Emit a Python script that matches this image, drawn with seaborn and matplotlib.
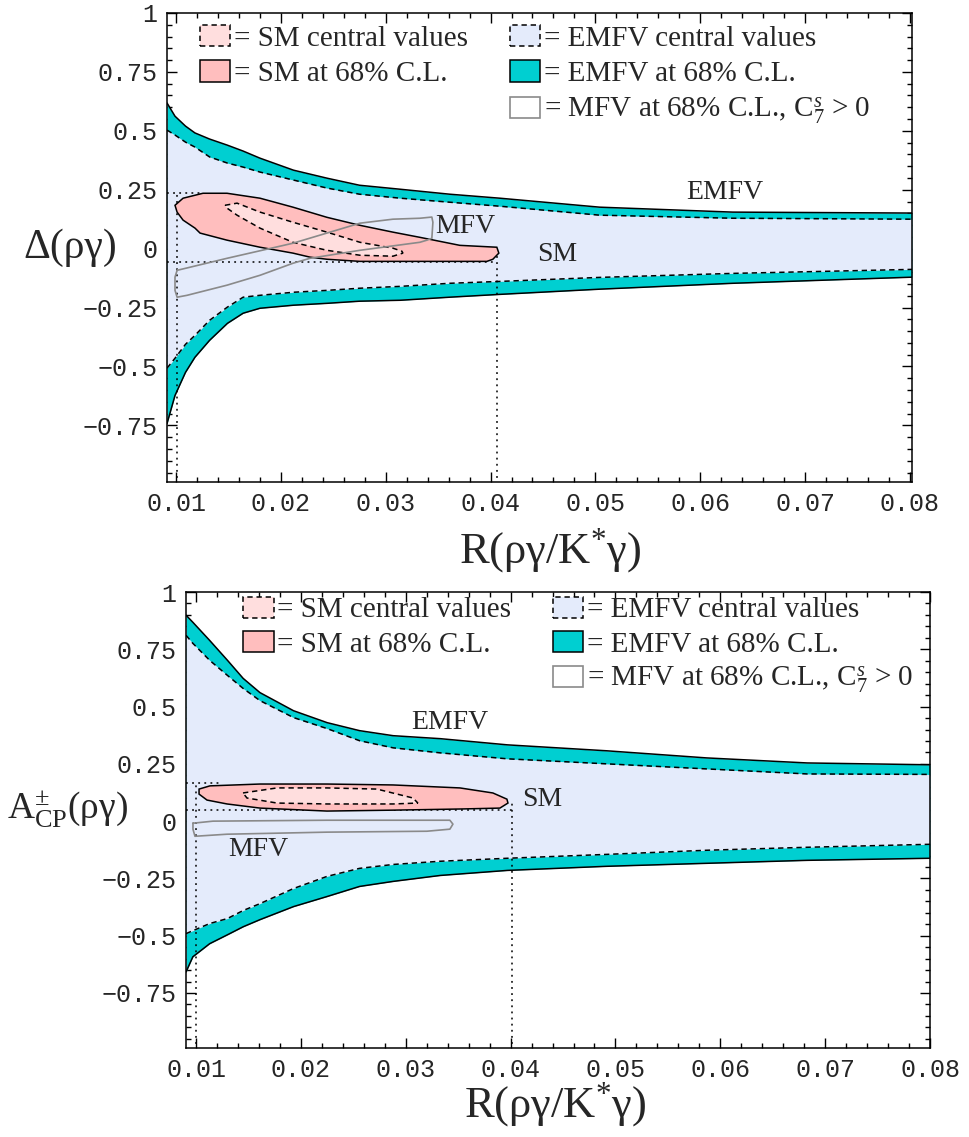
import numpy as np
import pandas as pd
import matplotlib
matplotlib.use('Agg')
import matplotlib.pyplot as plt
import seaborn as sns
from matplotlib.patches import Patch
from matplotlib.ticker import MultipleLocator, FuncFormatter

# --- top panel: Delta(rho gamma) vs R ---
r_top = [0.00914, 0.0099, 0.0109, 0.0118, 0.0132, 0.0149, 0.0164, 0.0180, 0.0212,
         0.0244, 0.0275, 0.0314, 0.0361, 0.0409, 0.0504, 0.0631, 0.0802]
emfv_top_out_hi = [0.618, 0.562, 0.520, 0.491, 0.465, 0.439, 0.414, 0.384, 0.333,
                   0.299, 0.269, 0.252, 0.231, 0.214, 0.176, 0.155, 0.151]
emfv_top_in_hi = [0.503, 0.482, 0.452, 0.431, 0.389, 0.363, 0.346, 0.325, 0.291,
                  0.257, 0.231, 0.214, 0.197, 0.180, 0.142, 0.129, 0.125]
emfv_top_in_lo = [-0.507, -0.465, -0.406, -0.368, -0.304, -0.248, -0.206, -0.198, -0.185,
                  -0.177, -0.168, -0.160, -0.147, -0.139, -0.122, -0.105, -0.088]
emfv_top_out_lo = [-0.742, -0.623, -0.525, -0.461, -0.389, -0.317, -0.274, -0.253, -0.240,
                   -0.232, -0.223, -0.219, -0.206, -0.194, -0.172, -0.147, -0.121]

sm_top_r = [0.00990, 0.01067, 0.01257, 0.01486, 0.01801, 0.02115, 0.02439, 0.02754, 0.03069,
            0.03326, 0.03707, 0.04060, 0.04079, 0.04022, 0.03965, 0.03326, 0.02754, 0.02439,
            0.02277, 0.02115, 0.01801, 0.01486, 0.01229, 0.01181, 0.01067, 0.01010]
sm_top_y = [0.184, 0.214, 0.235, 0.235, 0.214, 0.176, 0.133, 0.099, 0.070,
            0.048, 0.014, 0.006, -0.019, -0.045, -0.054, -0.054, -0.054, -0.045,
            -0.036, -0.019, 0.006, 0.036, 0.066, 0.087, 0.121, 0.155]
smc_top_r = [0.01467, 0.01582, 0.01801, 0.02115, 0.02439, 0.02754, 0.03069, 0.03154,
             0.03164, 0.03069, 0.02754, 0.02439, 0.02115, 0.01801, 0.01582, 0.01486]
smc_top_y = [0.184, 0.193, 0.155, 0.112, 0.070, 0.027, 0.002, -0.011,
             -0.019, -0.032, -0.028, -0.007, 0.027, 0.087, 0.142, 0.172]
mfv_top_r = [0.01010, 0.01486, 0.02115, 0.02754, 0.03069, 0.03326, 0.03440, 0.03450, 0.03440,
             0.03393, 0.03326, 0.02754, 0.02277, 0.02115, 0.01801, 0.01486, 0.01105, 0.01010,
             0.00990, 0.00990]
mfv_top_y = [-0.092, -0.041, 0.023, 0.108, 0.125, 0.129, 0.134, 0.112, 0.044,
             0.036, 0.027, -0.007, -0.041, -0.062, -0.113, -0.155, -0.198, -0.206,
             -0.177, -0.121]
# SM range marks (R_lo, R_hi, y_lo, y_hi)
box_top = [0.0101, 0.0406, -0.056, 0.235]

# --- bottom panel: A_CP(rho gamma) vs R ---
r_bot = [0.00905, 0.0097, 0.0113, 0.0130, 0.0145, 0.0161, 0.0193, 0.0225, 0.0256,
         0.0288, 0.0333, 0.0397, 0.0492, 0.0587, 0.0683, 0.0800]
emfv_bot_out_hi = [0.899, 0.868, 0.789, 0.702, 0.623, 0.561, 0.482, 0.430, 0.395,
                   0.373, 0.360, 0.333, 0.307, 0.276, 0.254, 0.246]
emfv_bot_in_hi = [0.811, 0.776, 0.702, 0.636, 0.579, 0.526, 0.452, 0.404, 0.351,
                  0.320, 0.298, 0.272, 0.250, 0.228, 0.206, 0.204]
emfv_bot_in_lo = [-0.491, -0.478, -0.447, -0.425, -0.390, -0.360, -0.294, -0.241, -0.206,
                  -0.189, -0.175, -0.162, -0.145, -0.127, -0.114, -0.101]
emfv_bot_out_lo = [-0.658, -0.592, -0.535, -0.496, -0.461, -0.430, -0.373, -0.329, -0.285,
                   -0.263, -0.237, -0.215, -0.197, -0.184, -0.171, -0.162]

sm_bot_r = [0.01029, 0.01133, 0.01610, 0.02249, 0.02878, 0.03517, 0.03831, 0.03965, 0.03975,
            0.03898, 0.03517, 0.02878, 0.02249, 0.01610, 0.01296, 0.01105, 0.01029]
sm_bot_y = [0.140, 0.154, 0.162, 0.162, 0.158, 0.145, 0.123, 0.096, 0.079,
            0.057, 0.053, 0.048, 0.044, 0.057, 0.075, 0.092, 0.118]
smc_bot_r = [0.01448, 0.01772, 0.02249, 0.02725, 0.03069, 0.03116, 0.02878, 0.02249, 0.01772, 0.01486]
smc_bot_y = [0.123, 0.145, 0.145, 0.140, 0.101, 0.079, 0.075, 0.075, 0.079, 0.101]
mfv_bot_r = [0.00971, 0.01162, 0.02249, 0.03421, 0.03450, 0.03421, 0.03202, 0.02249, 0.01296,
             0.00990, 0.00971]
mfv_bot_y = [-0.009, 0.000, 0.004, 0.004, -0.013, -0.035, -0.044, -0.048, -0.057,
             -0.066, -0.035]
box_bot = [0.0100, 0.0401, 0.048, 0.167]

CYAN = '#00cfd1'
LAV = '#e4ebfb'
PINK = '#ffbebe'
LPINK = '#ffdede'
GREY = '#8a8a8a'

sns.set_theme(style='ticks')
plt.rcParams['font.family'] = ['Liberation Serif', 'DejaVu Serif']
plt.rcParams['mathtext.fontset'] = 'custom'
plt.rcParams['mathtext.rm'] = 'Liberation Serif'
plt.rcParams['mathtext.it'] = 'Liberation Serif:italic'
plt.rcParams['mathtext.bf'] = 'Liberation Serif:bold'
plt.rcParams['lines.dashed_pattern'] = [3.5, 2.5]
plt.rcParams['lines.dotted_pattern'] = [1.2, 2.8]

fig = plt.figure(figsize=(9.7, 11.37), dpi=100)
ax1 = fig.add_axes([0.1722, 0.5761, 0.7680, 0.4125])
ax2 = fig.add_axes([0.1918, 0.0783, 0.7670, 0.4010])


def closed(a):
    return list(a) + [a[0]]


def panel(ax, r, ohi, ihi, ilo, olo, smr, smy, scr, scy, mr, my, box, xlim):
    ax.fill_between(r, olo, ohi, color=CYAN, lw=0, zorder=1)
    ax.fill_between(r, ilo, ihi, color=LAV, lw=0, zorder=2)
    for yy, ls in [(ohi, '-'), (ihi, '--'), (ilo, '--'), (olo, '-')]:
        sns.lineplot(x=r, y=yy, ax=ax, color='black', lw=1.1, linestyle=ls,
                     sort=False, estimator=None, zorder=3)
    x0, x1, y0, y1 = box
    ax.plot([xlim[0], x0 + 0.0025], [y1, y1], ls=':', color='black', lw=1.1, zorder=4)
    ax.plot([x0, x0], [-1, y1], ls=':', color='black', lw=1.1, zorder=4)
    ax.plot([xlim[0], x1], [y0, y0], ls=':', color='black', lw=1.1, zorder=4)
    ax.plot([x1, x1], [-1, y0 + 0.03], ls=':', color='black', lw=1.1, zorder=4)
    ax.fill(smr, smy, facecolor=PINK, edgecolor='black', lw=1.1, zorder=5)
    ax.fill(scr, scy, facecolor=LPINK, edgecolor='black', lw=1.1, ls='--', zorder=6)
    sns.lineplot(x=closed(mr), y=closed(my), ax=ax, color=GREY, lw=1.2,
                 sort=False, estimator=None, zorder=7)

    ax.set_xlim(*xlim)
    ax.set_ylim(-0.99, 1.0)
    ax.xaxis.set_major_locator(MultipleLocator(0.01))
    ax.xaxis.set_minor_locator(MultipleLocator(0.002))
    ax.yaxis.set_major_locator(MultipleLocator(0.25))
    ax.yaxis.set_minor_locator(MultipleLocator(0.05))
    ax.xaxis.set_major_formatter(FuncFormatter(lambda v, p: f'{v:.2f}'))
    ax.yaxis.set_major_formatter(FuncFormatter(lambda v, p: f'{v:g}'.replace('-', '\u2212')))
    ax.tick_params(which='both', direction='in', top=True, right=True, color='black',
                   width=1.0, labelsize=18, labelfontfamily='Liberation Mono', pad=7)
    ax.tick_params(which='major', length=7)
    ax.tick_params(which='minor', length=3.5)
    for s in ax.spines.values():
        s.set_linewidth(1.1)
        s.set_color('black')
    ax.set_xlabel('')
    ax.set_ylabel('')


panel(ax1, r_top, emfv_top_out_hi, emfv_top_in_hi, emfv_top_in_lo, emfv_top_out_lo,
      sm_top_r, sm_top_y, smc_top_r, smc_top_y, mfv_top_r, mfv_top_y, box_top,
      (0.00914, 0.0802))
panel(ax2, r_bot, emfv_bot_out_hi, emfv_bot_in_hi, emfv_bot_in_lo, emfv_bot_out_lo,
      sm_bot_r, sm_bot_y, smc_bot_r, smc_bot_y, mfv_bot_r, mfv_bot_y, box_bot,
      (0.00905, 0.0800))

# region names
ax1.text(0.0376, 0.095, 'MFV', fontsize=20, ha='center', va='center', zorder=8)
ax1.text(0.0464, -0.024, 'SM', fontsize=20, ha='center', va='center', zorder=8)
ax1.text(0.0623, 0.240, 'EMFV', fontsize=20, ha='center', va='center', zorder=8)
ax2.text(0.0159, -0.123, 'MFV', fontsize=20, ha='center', va='center', zorder=8)
ax2.text(0.0430, 0.096, 'SM', fontsize=20, ha='center', va='center', zorder=8)
ax2.text(0.0342, 0.430, 'EMFV', fontsize=20, ha='center', va='center', zorder=8)

# legends
h_smc = Patch(facecolor=LPINK, edgecolor='black', linestyle='--', lw=1.1)
h_sm = Patch(facecolor=PINK, edgecolor='black', lw=1.1)
h_ec = Patch(facecolor=LAV, edgecolor='black', linestyle='--', lw=1.1)
h_e = Patch(facecolor=CYAN, edgecolor='black', lw=1.1)
h_m = Patch(facecolor='white', edgecolor=GREY, lw=1.2)
left_labels = ['= SM central values', '= SM at 68% C.L.']
right_labels = ['= EMFV central values', '= EMFV at 68% C.L.',
                '= MFV at 68% C.L., C$_7^{s}$ > 0']
leg_kw = dict(loc='upper left', frameon=False, borderpad=0, borderaxespad=0,
              handlelength=1.05, handleheight=0.75, handletextpad=0.12, fontsize=21)
for ax, xl, xr, yt, sp in [(ax1, 0.044, 0.460, 0.975, 0.3), (ax2, 0.077, 0.493, 0.99, 0.25)]:
    lg = ax.legend([h_smc, h_sm], left_labels, bbox_to_anchor=(xl, yt),
                   labelspacing=sp, **leg_kw)
    ax.add_artist(lg)
    ax.legend([h_ec, h_e, h_m], right_labels, bbox_to_anchor=(xr, yt),
              labelspacing=sp, **leg_kw)

# axis titles
fig.text(0.072, 0.782, '\u0394(\u03c1\u03b3)', fontsize=30, ha='center', va='center')
fig.text(0.567, 0.516, 'R(\u03c1\u03b3/K$^{*}$\u03b3)', fontsize=32, ha='center', va='center')
fig.text(0.070, 0.288, 'A$_{\\mathrm{CP}}^{\\pm}$(\u03c1\u03b3)', fontsize=27, ha='center', va='center')
fig.text(0.572, 0.028, 'R(\u03c1\u03b3/K$^{*}$\u03b3)', fontsize=32, ha='center', va='center')

fig.savefig('out.png', dpi=100)
